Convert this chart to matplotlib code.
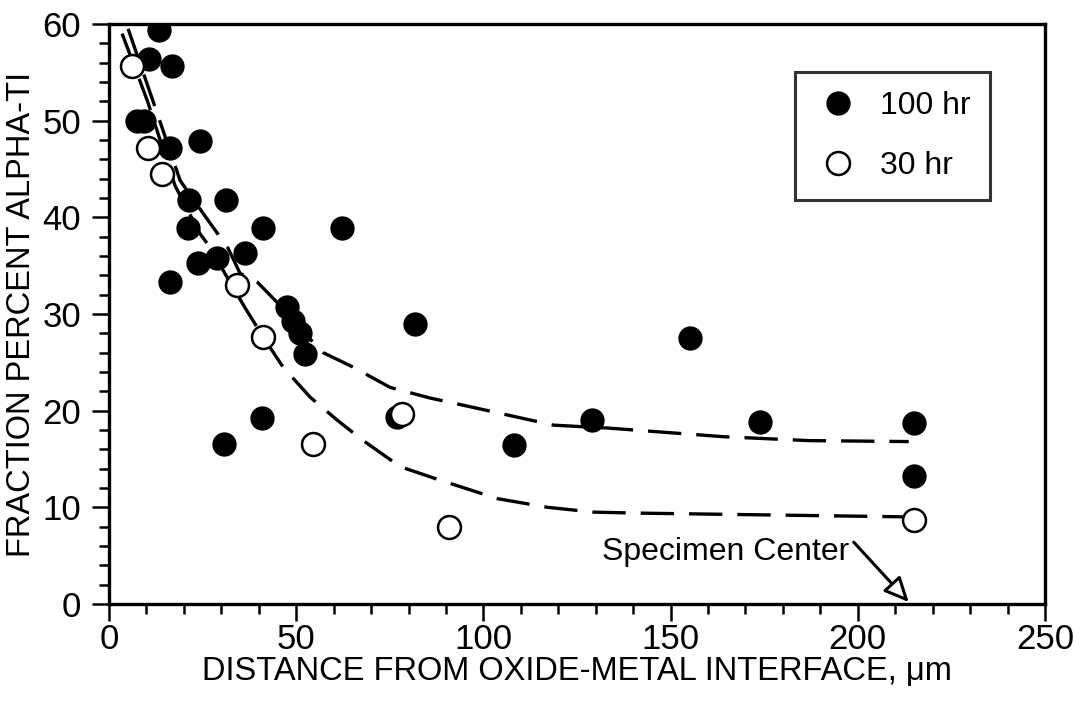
import matplotlib
matplotlib.use("Agg")
from matplotlib import pyplot as plt
from matplotlib.ticker import MultipleLocator

plt.rcParams['font.family'] = ['Liberation Sans', 'DejaVu Sans']

# 100 hr specimens (filled circles)
x_100 = [13.4, 10.7, 16.8, 7.5, 9.4, 16.3, 24.3, 21.4, 31.3, 21.1, 41.2, 62.3,
         23.8, 28.9, 36.4, 16.3, 47.6, 49.2, 51.1, 52.4, 81.8, 40.9, 30.7, 77.0,
         108.3, 129.1, 155.1, 173.8, 215, 215]
y_100 = [59.4, 56.4, 55.7, 50.0, 50.0, 47.2, 47.9, 41.8, 41.8, 38.9, 38.9, 38.9,
         35.3, 35.8, 36.3, 33.3, 30.7, 29.3, 28.0, 25.9, 29.0, 19.2, 16.6, 19.3,
         16.4, 19.0, 27.5, 18.8, 18.7, 13.2]

# 30 hr specimens (open circles)
x_30 = [6.1, 10.4, 14.2, 34.2, 41.2, 54.5, 78.3, 90.9, 215]
y_30 = [55.7, 47.2, 44.5, 33.0, 27.6, 16.5, 19.7, 8.0, 8.7]

# dashed trend curves
fit_100_x = [5.1, 11.5, 19.0, 24.6, 27.0, 31.8, 35.0, 39.6, 44.9, 50.0, 57.2, 65.2,
             75.1, 85.8, 96.5, 118.7, 133.2, 164.2, 186.9, 213.6]
fit_100_y = [59.5, 52.3, 43.8, 40.7, 39.4, 36.8, 34.2, 33.3, 31.2, 28.9, 26.0, 24.5,
             22.4, 21.3, 20.4, 18.5, 18.2, 17.3, 16.9, 16.8]
fit_30_x = [3.5, 10.2, 17.6, 24.3, 27.0, 32.4, 36.4, 41.2, 46.5, 53.7, 61.0, 67.9,
            77.8, 87.7, 103.7, 117.1, 129.4, 141.2, 215]
fit_30_y = [59.0, 52.1, 43.3, 38.3, 36.9, 33.2, 30.6, 27.6, 24.5, 21.4, 19.0, 16.9,
            14.2, 12.9, 10.9, 10.0, 9.5, 9.4, 9.0]

fig = plt.figure(figsize=(10.74, 7.05), dpi=100)
ax = fig.add_axes([0.1015, 0.1433, 0.8715, 0.8227])

dash = (0, (10, 4.5))
ax.plot(fit_100_x, fit_100_y, color='black', linewidth=2.4, linestyle=dash, zorder=2)
ax.plot(fit_30_x, fit_30_y, color='black', linewidth=2.4, linestyle=dash, zorder=2)

ax.plot(x_100, y_100, linestyle='none', marker='o', markersize=16.5,
        markerfacecolor='black', markeredgecolor='black', label='100 hr', zorder=3)
ax.plot(x_30, y_30, linestyle='none', marker='o', markersize=16.5,
        markerfacecolor='white', markeredgecolor='black', markeredgewidth=1.8,
        label='30 hr', zorder=4)

ax.annotate('', xy=(213.6, 0.2), xytext=(198.9, 6.4),
            arrowprops=dict(arrowstyle='-|>,head_length=1.5,head_width=0.7',
                            lw=2.2, fc='white', ec='black', shrinkA=0, shrinkB=0))
ax.text(197.6, 5.4, 'Specimen Center', ha='right', va='center', fontsize=23)

ax.set_xlim(0, 250)
ax.set_ylim(0, 60)
ax.xaxis.set_major_locator(MultipleLocator(50))
ax.xaxis.set_minor_locator(MultipleLocator(10))
ax.yaxis.set_major_locator(MultipleLocator(10))
ax.yaxis.set_minor_locator(MultipleLocator(2))
ax.tick_params(which='both', direction='out', width=1.8, labelsize=25)
ax.tick_params(axis='x', pad=2)
ax.tick_params(axis='y', pad=8)
ax.tick_params(which='major', length=12)
ax.tick_params(which='minor', length=7)
for s in ax.spines.values():
    s.set_linewidth(2.4)

ax.set_xlabel('DISTANCE FROM OXIDE-METAL INTERFACE, μm', fontsize=23.5, labelpad=0)
ax.set_ylabel('FRACTION PERCENT ALPHA-TI', fontsize=23.5, labelpad=4)

leg = ax.legend(loc='upper left', bbox_to_anchor=(795 / 1074, 1 - 72 / 705),
                bbox_transform=fig.transFigure, borderaxespad=0, fontsize=23,
                frameon=True, fancybox=False, edgecolor='black', borderpad=0.6,
                labelspacing=0.94, handlelength=1.5, handletextpad=0.56)
leg.get_frame().set_linewidth(2.2)

plt.savefig('out.png', dpi=100)
